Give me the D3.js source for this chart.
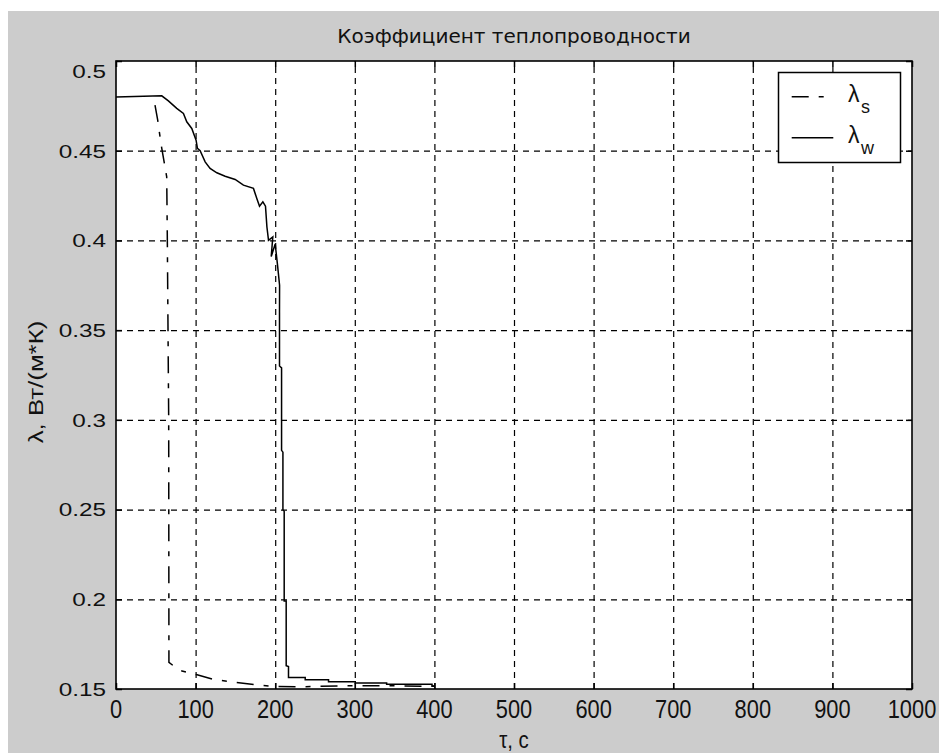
<!DOCTYPE html>
<html><head><meta charset="utf-8">
<script src="https://cdn.jsdelivr.net/npm/d3@7"></script>
<style>body{margin:0;background:#fff;overflow:hidden}</style>
</head><body>
<svg id="chart" width="939" height="753"></svg>
<script>
// ---- data ----
const titleText = "Коэффициент теплопроводности";
const xLabelText = "τ, с";
const yLabelText = "λ, Вт/(м*К)";
const xTicks = [0,100,200,300,400,500,600,700,800,900,1000];
const yTicks = [0.15,0.2,0.25,0.3,0.35,0.4,0.45,0.5];
const yTickLabels = ["0.15","0.2","0.25","0.3","0.35","0.4","0.45","0.5"];
const seriesNames = ["s","w"];

// lambda_s (dash-dot)
const lsT = [49,52.4,55.3,57.5,60.8,63.7,64.5,66.2,66.5,76,83,101.9,120.8,149.7,176,198,227,300,350,400];
const lsV = [0.4754,0.4671,0.4578,0.4513,0.4429,0.4354,0.40,0.30,0.1648,0.1617,0.160,0.1579,0.1555,0.1537,0.1523,0.1514,0.1512,0.1519,0.1518,0.1515];

// lambda_w (solid)
const lwT = [0,57.5,65.8,76.3,84.7,88.9,95.2,100.6,102.3,105.7,112,118.2,126.7,137.1,149.7,160.1,172.7,176.9,180.3,184.5,187.8,189.6,191.6,197,195,200,203,205.5,205.4,205.4,208,208,209.7,209.7,211.3,211.3,213.8,213.8,216.7,216.7,237.7,237.7,267,267,300.6,300.6,340,340,397,397,400];
const lwV = [0.48,0.4806,0.4778,0.4736,0.4708,0.4661,0.4624,0.4559,0.4513,0.4500,0.4438,0.4401,0.4377,0.4358,0.4340,0.4308,0.4290,0.4234,0.4191,0.4215,0.4191,0.4075,0.4001,0.402,0.391,0.398,0.386,0.375,0.36,0.33,0.329,0.283,0.282,0.25,0.249,0.199,0.199,0.163,0.1625,0.1564,0.1564,0.1551,0.1551,0.1541,0.1541,0.1533,0.1533,0.1526,0.1526,0.1517,0.1517];

// ---- layout ----
const svg = d3.select("#chart");
const L = 116, R = 912, T = 61, B = 689;
const x = d3.scaleLinear().domain([0,1000]).range([L,R]);
const y = d3.scaleLinear().domain([0.15,0.5]).range([B,T]);
const dashDot = "17,10,5,10";

svg.append("rect").attr("x",8).attr("y",11).attr("width",931).attr("height",742).attr("fill","#cccccc");
svg.append("rect").attr("x",L).attr("y",T).attr("width",R-L).attr("height",B-T).attr("fill","#fff");

// grid
const gx = svg.append("g").attr("transform",`translate(0,${B})`)
  .call(d3.axisBottom(x).tickValues(xTicks.slice(1,-1)).tickSize(-(B-T)).tickSizeOuter(0).tickFormat(""));
const gy = svg.append("g").attr("transform",`translate(${L},0)`)
  .call(d3.axisLeft(y).tickValues(yTicks.slice(1,-1)).tickSize(-(R-L)).tickSizeOuter(0).tickFormat(""));
[gx,gy].forEach(g=>{
  g.select(".domain").remove();
  g.selectAll(".tick line").attr("stroke","#000").attr("stroke-width",1.2).attr("stroke-dasharray","6,5");
});

// inner ticks on all four sides
const tk = 6;
const axB = svg.append("g").attr("transform",`translate(0,${B})`).call(d3.axisBottom(x).tickValues(xTicks).tickSize(-tk).tickSizeOuter(0).tickFormat(""));
const axT = svg.append("g").attr("transform",`translate(0,${T})`).call(d3.axisTop(x).tickValues(xTicks).tickSize(-tk).tickSizeOuter(0).tickFormat(""));
const axL = svg.append("g").attr("transform",`translate(${L},0)`).call(d3.axisLeft(y).tickValues(yTicks).tickSize(-tk).tickSizeOuter(0).tickFormat(""));
const axR = svg.append("g").attr("transform",`translate(${R},0)`).call(d3.axisRight(y).tickValues(yTicks).tickSize(-tk).tickSizeOuter(0).tickFormat(""));
[axB,axT,axL,axR].forEach(g=>{
  g.select(".domain").remove();
  g.selectAll(".tick line").attr("stroke","#000").attr("stroke-width",1.5);
});

// curves
const line = d3.line().x(d=>x(d[0])).y(d=>y(d[1]));
const lsData = lsT.map((t,i)=>[t,lsV[i]]);
const lwData = lwT.map((t,i)=>[t,lwV[i]]);
svg.append("path").datum(lsData).attr("d",line).attr("fill","none").attr("stroke","#000")
  .attr("stroke-width",1.5).attr("stroke-dasharray",dashDot);
svg.append("path").datum(lwData).attr("d",line).attr("fill","none").attr("stroke","#000")
  .attr("stroke-width",1.5);

// box
svg.append("rect").attr("x",L).attr("y",T).attr("width",R-L).attr("height",B-T)
  .attr("fill","none").attr("stroke","#000").attr("stroke-width",1.6);

// x tick labels
svg.append("g").selectAll("text").data(xTicks).join("text")
  .attr("transform",d=>`translate(${x(d)},718) scale(0.84,1)`)
  .attr("text-anchor","middle").attr("font-family","Liberation Sans, Arial, sans-serif")
  .attr("font-size",26).attr("fill","#111").text(d=>String(d));

// y tick labels
svg.append("g").selectAll("text").data(yTicks).join("text")
  .attr("transform",(d,i)=>`translate(106,${y(d) + (i===yTicks.length-1?10:0)}) scale(1.28,1)`)
  .attr("text-anchor","end").attr("dy","0.36em").attr("font-family","Liberation Sans, Arial, sans-serif")
  .attr("font-size",19).attr("fill","#111").text((d,i)=>yTickLabels[i]);

// title
svg.append("text").attr("x",(L+R)/2).attr("y",43).attr("text-anchor","middle")
  .attr("font-family","DejaVu Sans, sans-serif").attr("font-size",20).attr("fill","#111").text(titleText);

// axis labels
svg.append("text").attr("transform",`translate(${(L+R)/2},747.5) scale(0.85,1)`).attr("text-anchor","middle")
  .attr("font-family","Liberation Sans, Arial, sans-serif").attr("font-size",24).attr("fill","#111").text(xLabelText);
svg.append("text").attr("transform",`translate(43,${(T+B)/2+7}) rotate(-90) scale(1.23,1)`).attr("text-anchor","middle")
  .attr("font-family","Liberation Sans, Arial, sans-serif").attr("font-size",21).attr("fill","#111").text(yLabelText);

// legend
const lg = svg.append("g");
lg.append("rect").attr("x",778.5).attr("y",72.5).attr("width",122).attr("height",90)
  .attr("fill","#fff").attr("stroke","#000").attr("stroke-width",1.5);
const legY = [96.7,137.7];
const legLen = [33,41.6];
seriesNames.forEach((n,i)=>{
  lg.append("line").attr("x1",791.7).attr("x2",791.7+legLen[i]).attr("y1",legY[i]).attr("y2",legY[i])
    .attr("stroke","#000").attr("stroke-width",1.5).attr("stroke-dasharray",i===0?dashDot:null);
  lg.append("text").attr("x",848).attr("y",legY[i]+5).attr("font-family","Liberation Sans, Arial, sans-serif")
    .attr("font-size",23).attr("fill","#111").text("λ");
  lg.append("text").attr("x",861).attr("y",legY[i]+16).attr("font-family","Liberation Sans, Arial, sans-serif")
    .attr("font-size",18).attr("fill","#111").text(n);
});
</script>
</body></html>
